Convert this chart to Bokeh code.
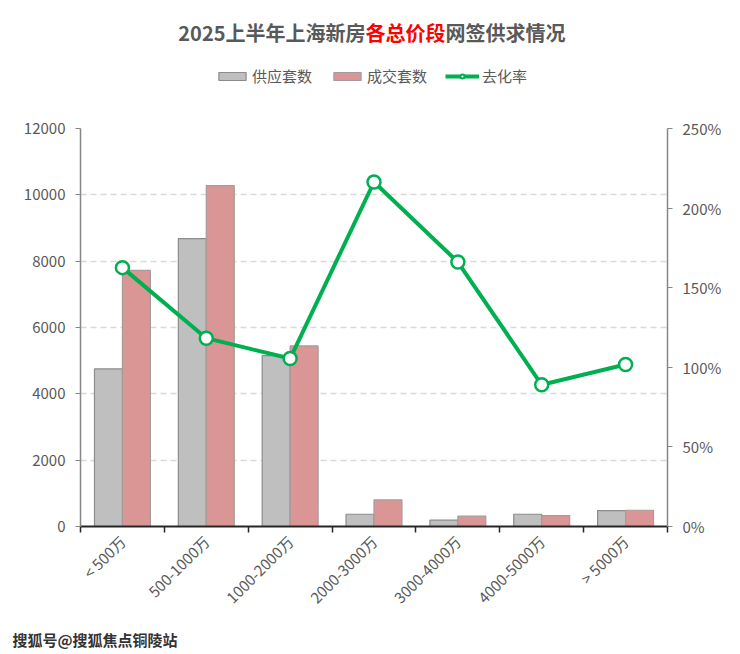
import numpy as np
from bokeh.plotting import figure
from bokeh.layouts import column
from bokeh.models import (Range1d, LinearAxis, FixedTicker, NumeralTickFormatter,
                          Legend, LegendItem, Title)
from bokeh.core.properties import value
from bokeh.embed import file_html
from bokeh.resources import INLINE

# ---------------- data ----------------
categories = ["< 500万", "500-1000万", "1000-2000万", "2000-3000万",
              "3000-4000万", "4000-5000万", "> 5000万"]
supply = [4750, 8680, 5155, 370, 190, 370, 480]        # 供应套数
deal = [7720, 10280, 5445, 800, 310, 328, 490]         # 成交套数
rate = [1.626, 1.183, 1.055, 2.164, 1.661, 0.890, 1.018]  # 去化率
left_ticks = [0, 2000, 4000, 6000, 8000, 10000, 12000]
right_ticks = [0, 0.5, 1.0, 1.5, 2.0, 2.5]
title_parts = ["2025上半年上海新房", "各总价段", "网签供求情况"]
legend_labels = ["供应套数", "成交套数", "去化率"]
watermark = "搜狐号@搜狐焦点铜陵站"

FONT = "Noto Sans CJK SC"
TXT = "#595959"
GRAY_FILL, GRAY_LINE = "#BFBFBF", "#8C8C8C"
RED_FILL, RED_LINE = "#D99694", "#A89A9A"
GREEN = "#00B050"

W = 740
BL, BR = 80, 73            # left / right borders (frames are aligned in the column)
n = len(categories)
xs = np.arange(n) + 0.5


def blank(height):
    f = figure(width=W, height=height, output_backend="svg", toolbar_location=None,
               x_range=Range1d(BL, W - BR), y_range=Range1d(0, height),
               x_axis_type=None, y_axis_type=None,
               min_border_left=BL, min_border_right=BR,
               min_border_top=0, min_border_bottom=0)
    f.outline_line_color = None
    f.border_fill_color = "white"
    f.background_fill_color = "white"
    return f


# ---------------- header (title + legend) ----------------
HH = 100
hdr = blank(HH)
ty = HH - 32
for txt, x, align, col in [(title_parts[0], 365, "right", TXT),
                           (title_parts[1], 365, "left", "#FF0000"),
                           (title_parts[2], 445, "left", TXT)]:
    hdr.text(x=[x], y=[ty], text=[txt], text_align=align, text_baseline="middle",
             text_font=value(FONT), text_font_size="20px", text_font_style="bold",
             text_color=col)

# legend proxies: same styles as the chart series, kept outside the header's view
lg1 = hdr.vbar(x=[0], top=[0], width=1, fill_color=GRAY_FILL, line_color=GRAY_LINE, line_width=1.2)
lg2 = hdr.vbar(x=[0], top=[0], width=1, fill_color=RED_FILL, line_color=RED_LINE, line_width=1.2)
lg3 = hdr.line(x=[0, 1], y=[0, 0], line_color=GREEN, line_width=4)
lg4 = hdr.scatter(x=[0], y=[0], size=9, marker="circle", fill_color="white",
                  line_color=GREEN, line_width=2)
legend = Legend(items=[LegendItem(label=legend_labels[0], renderers=[lg1]),
                       LegendItem(label=legend_labels[1], renderers=[lg2]),
                       LegendItem(label=legend_labels[2], renderers=[lg3, lg4])],
                orientation="horizontal", location=(215 - BL, 14),
                glyph_width=34, glyph_height=10, label_standoff=3, spacing=18,
                padding=0, margin=0, border_line_color=None,
                background_fill_alpha=0,
                label_text_font=FONT, label_text_font_size="15px",
                label_text_color=TXT)
hdr.add_layout(legend, "center")

# ---------------- main chart ----------------
MH = 526
p = figure(width=W, height=MH, output_backend="svg", toolbar_location=None,
           x_range=Range1d(0, n), y_range=Range1d(0, 12000),
           min_border_left=BL, min_border_right=BR,
           min_border_top=28, min_border_bottom=100)
p.outline_line_color = None
p.background_fill_color = "white"
p.border_fill_color = "white"
p.extra_y_ranges = {"rate": Range1d(0, 2.5)}

p.vbar(x=xs - 1/6, width=1/3, top=supply, bottom=0,
       fill_color=GRAY_FILL, line_color=GRAY_LINE, line_width=1.2)
p.vbar(x=xs + 1/6, width=1/3, top=deal, bottom=0,
       fill_color=RED_FILL, line_color=RED_LINE, line_width=1.2)
p.line(x=xs, y=rate, y_range_name="rate", line_color=GREEN, line_width=4)
p.scatter(x=xs, y=rate, y_range_name="rate", size=13, marker="circle",
          fill_color="white", line_color=GREEN, line_width=2.5)

# x axis: labels at category centres, tick marks at category boundaries
xa = p.xaxis[0]
xa.ticker = FixedTicker(ticks=list(xs), minor_ticks=list(range(n + 1)))
xa.major_label_overrides = {float(x): c for x, c in zip(xs, categories)}
xa.major_label_orientation = np.pi / 4
xa.major_tick_out = 0
xa.major_tick_in = 0
xa.minor_tick_out = 6
xa.minor_tick_in = 0
xa.minor_tick_line_color = "#262626"
xa.minor_tick_line_width = 1.5
xa.axis_line_color = "#262626"
xa.axis_line_width = 1.8
xa.major_label_text_font = FONT
xa.major_label_text_font_size = "15px"
xa.major_label_text_color = TXT
xa.major_label_standoff = 6

ya = p.yaxis[0]
ya.ticker = FixedTicker(ticks=left_ticks)
ya.minor_tick_line_color = None
ya.major_tick_out = 5
ya.major_tick_in = 0
ya.major_tick_line_color = "#868686"
ya.axis_line_color = "#868686"
ya.axis_line_width = 1.5
ya.major_label_text_font = FONT
ya.major_label_text_font_size = "15px"
ya.major_label_text_color = TXT
ya.major_label_standoff = 10

ra = LinearAxis(y_range_name="rate", ticker=FixedTicker(ticks=right_ticks),
                formatter=NumeralTickFormatter(format="0%"))
ra.minor_tick_line_color = None
ra.major_tick_out = 5
ra.major_tick_in = 0
ra.major_tick_line_color = "#868686"
ra.axis_line_color = "#868686"
ra.axis_line_width = 1.5
ra.major_label_text_font = FONT
ra.major_label_text_font_size = "15px"
ra.major_label_text_color = TXT
ra.major_label_standoff = 10
p.add_layout(ra, "right")

p.xgrid.grid_line_color = None
p.ygrid.ticker = FixedTicker(ticks=left_ticks)
p.ygrid.grid_line_color = "#D9D9D9"
p.ygrid.grid_line_dash = "6 4"
p.ygrid.grid_line_width = 1.3

# ---------------- footer (watermark) ----------------
FH = 28
ftr = blank(FH)
ftr.add_layout(Title(text=watermark, align="left", offset=12 - BL, standoff=0,
                     text_font=FONT, text_font_size="15px", text_font_style="bold",
                     text_color="#333333"), "above")

layout = column(hdr, p, ftr, spacing=0)
open("out.html", "w").write(file_html(layout, INLINE))
